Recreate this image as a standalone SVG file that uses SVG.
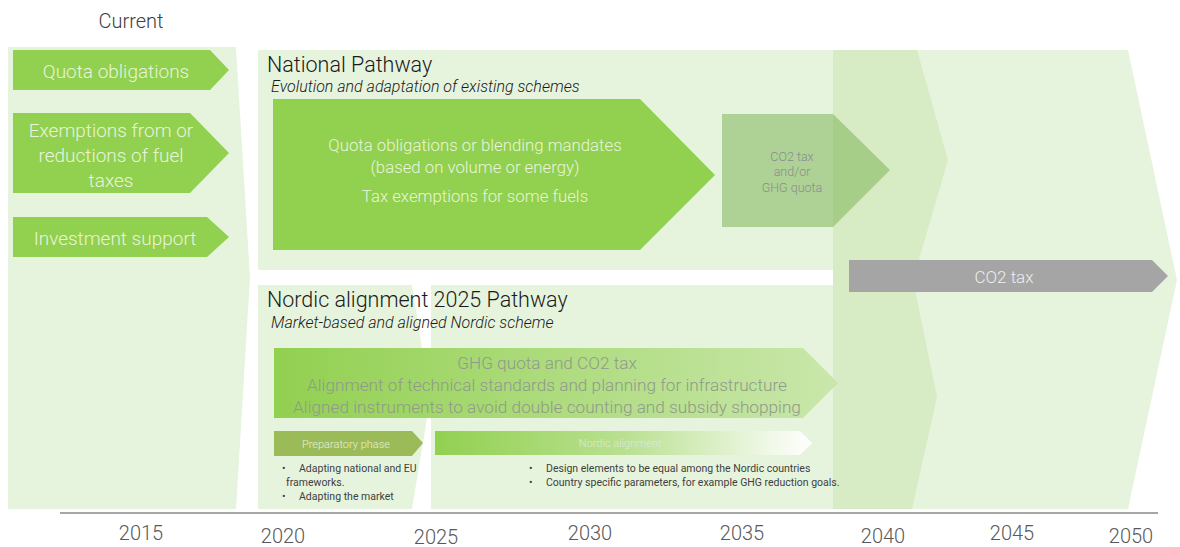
<svg xmlns="http://www.w3.org/2000/svg" width="1180" height="547" viewBox="0 0 1180 547">
<defs>
<style>
text{font-family:Roboto,"Liberation Sans",sans-serif;font-weight:300}
.panel{fill:#e7f4dd}
.band{fill:#d7ecc5}
.green{fill:#92d050}
.wt{fill:#e8f5dc;text-anchor:middle}
.ttl{fill:#1a1a1a;font-size:21.5px;font-weight:300}
.sub{fill:#1a1a1a;font-size:16px;font-style:italic}
.gt{fill:#8f9a8a;text-anchor:middle}
.bul{fill:#404040;font-size:10.5px;font-weight:400}
.yr{fill:#595959;font-size:20px;text-anchor:middle}
</style>
<linearGradient id="gGHG" x1="0" y1="0" x2="1" y2="0">
<stop offset="0" stop-color="#92d050"/>
<stop offset="1" stop-color="#c9e7ab"/>
</linearGradient>
<linearGradient id="gNord" x1="0" y1="0" x2="1" y2="0">
<stop offset="0" stop-color="#92d050"/>
<stop offset="0.5" stop-color="#b9e090"/>
<stop offset="1" stop-color="#ffffff"/>
</linearGradient>
</defs>

<g id="backgrounds">
<polygon class="panel" points="8,47 236,47 250,278 236,509 8,509"/>
<rect class="panel" x="258" y="50" width="576" height="220"/>
<polygon class="panel" points="258,285 412,285 430,400 412,509 258,509"/>
<rect class="panel" x="431" y="285" width="403" height="224"/>
<polygon class="panel" points="833,50 1128,50 1177,280 1128,509 833,509"/>
<polygon class="band" points="833,50 917,50 948,160 913,280 937,397 912,509 833,509"/>
</g>

<text x="131" y="28" fill="#404040" font-size="20" text-anchor="middle">Current</text>

<g id="cur-quota">
<polygon class="green" points="13,50 210,50 229,70 210,90 13,90"/>
<text class="wt" x="116" y="78" font-size="19">Quota obligations</text>
</g>
<g id="cur-exemptions">
<polygon class="green" points="13,113 190,113 229,153 190,193 13,193"/>
<text class="wt" x="111" y="137" font-size="19">Exemptions from or</text>
<text class="wt" x="111" y="162" font-size="19">reductions of fuel</text>
<text class="wt" x="111" y="187" font-size="19">taxes</text>
</g>
<g id="cur-investment">
<polygon class="green" points="13,217 207,217 229,237 207,257 13,257"/>
<text class="wt" x="115" y="245" font-size="19">Investment support</text>
</g>

<g id="national-title">
<text class="ttl" x="267" y="72">National Pathway</text>
<text class="sub" x="271" y="92">Evolution and adaptation of existing schemes</text>
</g>
<g id="national-arrow">
<polygon class="green" points="273,99 640,99 715,175 640,250 273,250"/>
<text class="wt" x="475" y="151" font-size="16.8">Quota obligations or blending mandates</text>
<text class="wt" x="475" y="173" font-size="16.8">(based on volume or energy)</text>
<text class="wt" x="475" y="202" font-size="16.8">Tax exemptions for some fuels</text>
</g>
<g id="co2-ghg">
<polygon fill="#70ad47" fill-opacity="0.48" points="722,114 833,114 890,170 833,227 722,227"/>
<text x="792" y="161" fill="#8c8c8c" font-size="12.5" text-anchor="middle">CO2 tax</text>
<text x="792" y="176" fill="#8c8c8c" font-size="12.5" text-anchor="middle">and/or</text>
<text x="792" y="192" fill="#8c8c8c" font-size="12.5" text-anchor="middle">GHG quota</text>
</g>
<g id="co2-tax">
<polygon fill="#a5a5a5" points="849,260 1152,260 1168,276 1152,292 849,292"/>
<text x="1004" y="283" fill="#eeeeee" font-size="17" text-anchor="middle">CO2 tax</text>
</g>

<g id="nordic-title">
<text class="ttl" x="267" y="307">Nordic alignment 2025 Pathway</text>
<text class="sub" x="271" y="328">Market-based and aligned Nordic scheme</text>
</g>
<g id="nordic-arrow">
<polygon fill="url(#gGHG)" points="274,348 803,348 838,383 803,418 274,418"/>
<text class="gt" x="547" y="369" font-size="17.2">GHG quota and CO2 tax</text>
<text class="gt" x="547" y="391" font-size="17.2">Alignment of technical standards and planning for infrastructure</text>
<text class="gt" x="547" y="413" font-size="17.2">Aligned instruments to avoid double counting and subsidy shopping</text>
</g>
<g id="preparatory">
<polygon fill="#9bbb59" points="274,431 412,431 423,443 412,456 274,456"/>
<text x="346" y="447.5" fill="#e8f0d8" font-size="11" text-anchor="middle">Preparatory phase</text>
<text class="bul" x="282" y="472">•</text>
<text class="bul" x="299" y="472">Adapting national and EU</text>
<text class="bul" x="286" y="486">frameworks.</text>
<text class="bul" x="282" y="500">•</text>
<text class="bul" x="299" y="500">Adapting the market</text>
</g>
<g id="nordic-alignment">
<polygon fill="url(#gNord)" points="435,431 800,431 812,443 800,455 435,455"/>
<text x="620" y="447" fill="#dfe9d8" font-size="11" text-anchor="middle">Nordic alignment</text>
<text class="bul" x="529" y="472" font-size="10">•</text>
<text class="bul" x="546" y="472" font-size="10">Design elements to be equal among the Nordic countries</text>
<text class="bul" x="529" y="486" font-size="10">•</text>
<text class="bul" x="546" y="486" font-size="10">Country specific parameters, for example GHG reduction goals.</text>
</g>

<g id="axis">
<line x1="60" y1="513" x2="1158" y2="513" stroke="#a6a6a6" stroke-width="2"/>
<text class="yr" x="141" y="540">2015</text>
<text class="yr" x="283" y="543">2020</text>
<text class="yr" x="436" y="544">2025</text>
<text class="yr" x="590" y="540">2030</text>
<text class="yr" x="742" y="540">2035</text>
<text class="yr" x="883" y="543">2040</text>
<text class="yr" x="1012" y="540">2045</text>
<text class="yr" x="1131" y="543">2050</text>
</g>
</svg>
